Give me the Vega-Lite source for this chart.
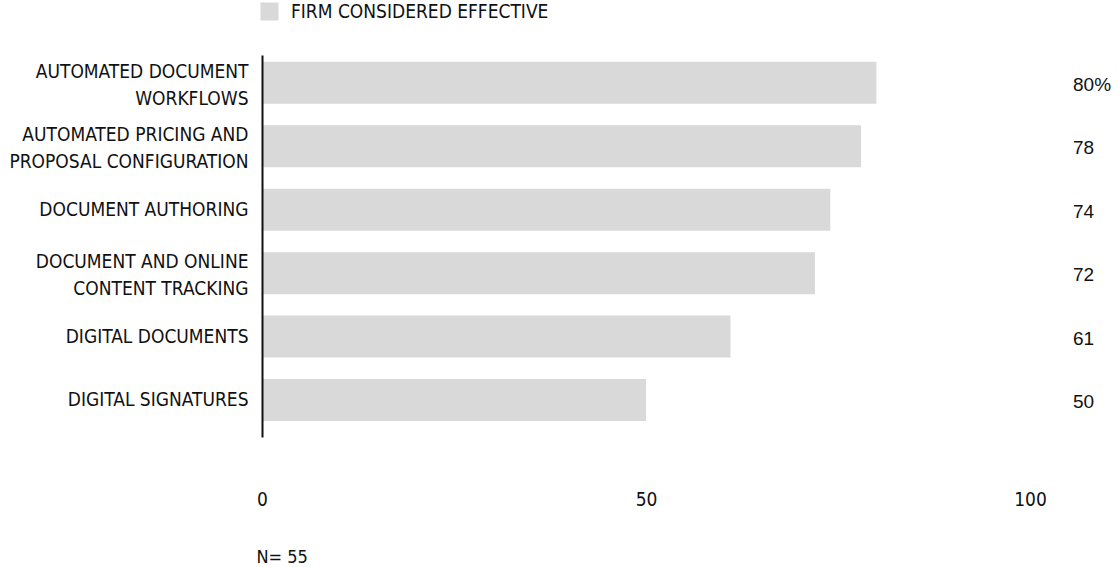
{
  "$schema": "https://vega.github.io/schema/vega-lite/v6.json",
  "width": 768,
  "height": 382,
  "autosize": {"type": "none"},
  "padding": {"left": 262, "top": 55, "right": 87, "bottom": 130},
  "background": "white",
  "config": {
    "view": {"stroke": null},
    "font": "DejaVu Sans Condensed"
  },
  "data": {
    "values": [
      {"category": "AUTOMATED DOCUMENT|WORKFLOWS", "value": 80, "label": "80%", "series": "FIRM CONSIDERED EFFECTIVE"},
      {"category": "AUTOMATED PRICING AND|PROPOSAL CONFIGURATION", "value": 78, "label": "78", "series": "FIRM CONSIDERED EFFECTIVE"},
      {"category": "DOCUMENT AUTHORING", "value": 74, "label": "74", "series": "FIRM CONSIDERED EFFECTIVE"},
      {"category": "DOCUMENT  AND ONLINE|CONTENT TRACKING", "value": 72, "label": "72", "series": "FIRM CONSIDERED EFFECTIVE"},
      {"category": "DIGITAL DOCUMENTS", "value": 61, "label": "61", "series": "FIRM CONSIDERED EFFECTIVE"},
      {"category": "DIGITAL SIGNATURES", "value": 50, "label": "50", "series": "FIRM CONSIDERED EFFECTIVE"}
    ]
  },
  "encoding": {
    "y": {
      "field": "category",
      "type": "nominal",
      "sort": null,
      "scale": {"paddingInner": 0.3375, "paddingOuter": 0.18, "align": 0.3},
      "axis": {
        "title": null,
        "ticks": false,
        "domain": true,
        "domainColor": "#111111",
        "domainWidth": 2,
        "zindex": 1,
        "labelPadding": 14,
        "labelFontSize": 19,
        "labelColor": "#111111",
        "labelLineHeight": 27,
        "labelLimit": 300,
        "labelOffset": {"condition": {"test": "indexof(datum.value, '|') >= 0", "value": -11}, "value": 0},
        "labelExpr": "split(datum.label, '|')"
      }
    }
  },
  "layer": [
    {
      "mark": {"type": "bar", "color": "#d9d9d9"},
      "encoding": {
        "x": {
          "field": "value",
          "type": "quantitative",
          "scale": {"domain": [0, 100]},
          "axis": {
            "values": [0, 50, 100],
            "grid": false,
            "ticks": false,
            "domain": false,
            "labelFlush": false,
            "labelPadding": 53,
            "labelFontSize": 19,
            "labelColor": "#111111",
            "title": "N= 55",
            "titleFontSize": 18,
            "titleFontWeight": "normal",
            "titleColor": "#111111",
            "titleAnchor": "start",
            "titleAlign": "left",
            "titleBaseline": "middle",
            "titleX": -6,
            "titleY": 120
          }
        },
        "color": {
          "field": "series",
          "type": "nominal",
          "scale": {"range": ["#d9d9d9"]},
          "legend": {
            "title": null,
            "orient": "none",
            "legendX": -2,
            "legendY": -53,
            "symbolType": "square",
            "symbolSize": 324,
            "symbolStrokeWidth": 0,
            "labelFontSize": 19,
            "labelColor": "#111111",
            "labelOffset": 12,
            "labelLimit": 500
          }
        }
      }
    },
    {
      "mark": {"type": "text", "align": "left", "baseline": "middle", "fontSize": 19, "color": "#111111", "font": "Liberation Sans", "dy": 2},
      "encoding": {
        "x": {"datum": 105.6, "type": "quantitative"},
        "text": {"field": "label"}
      }
    }
  ]
}
